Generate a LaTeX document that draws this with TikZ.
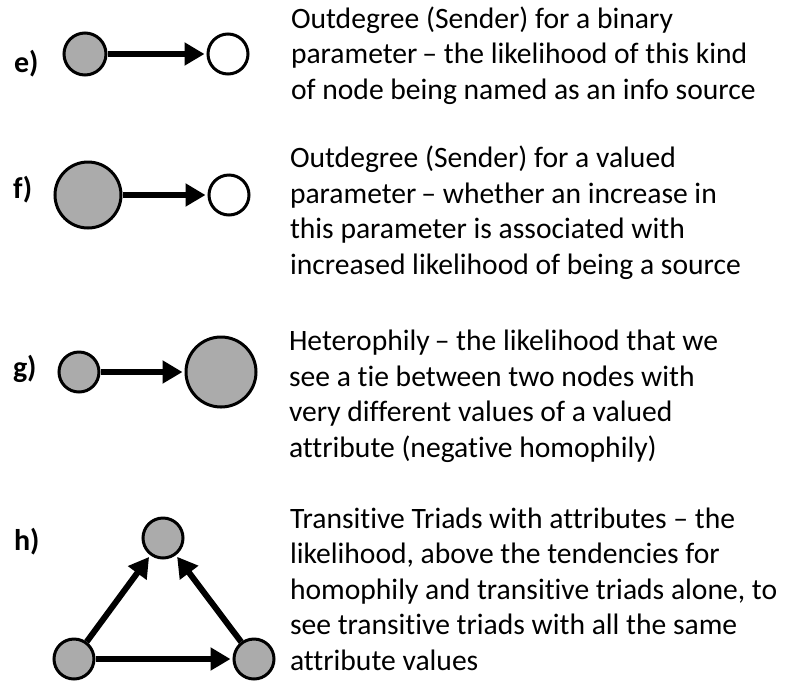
\documentclass[tikz,border=0pt]{standalone}
\usepackage{fontspec}
\setmainfont{Carlito}[Ligatures=NoCommon]
\usetikzlibrary{arrows.meta}

\begin{document}
\begin{tikzpicture}[x=1pt,y=-1pt,->,>={Triangle[length=20pt,width=22pt]},line width=6pt,shorten >=2pt,
        grey/.style={shape=circle,draw=black,line width=3pt,fill=black!33,minimum size=40pt,inner sep=0pt},
        blank/.style={shape=circle,draw=black,line width=3pt,fill=white,minimum size=40pt,inner sep=0pt},
        lbl/.style={font=\fontsize{30}{32}\selectfont\bfseries,anchor=base west,inner sep=0pt},
        txt/.style={font=\fontsize{29.6}{35.5}\selectfont,anchor=base west,align=left,inner sep=0pt}]
                \useasboundingbox(0, 0)rectangle(791, 681);
                % e) binary sender
                \node[lbl](le)at(11, 72){e)};
                \node[grey,minimum size=42pt](e1)at(85, 54){};
                \node[blank](e2)at(228, 54){};
                \node[txt](te)at(288, 99){Outdegree (Sender) for a binary\\parameter\,-- the likelihood of this kind\\of node being named as an info source};
                % f) valued sender
                \node[lbl](lf)at(10, 198){f)};
                \node[grey,minimum size=66pt](f1)at(88, 195){};
                \node[blank](f2)at(229, 195){};
                \node[txt](tf)at(287, 274){Outdegree (Sender) for a valued\\parameter\,-- whether an increase in\\this parameter is associated with\\increased likelihood of being a source};
                % g) heterophily
                \node[lbl](lg)at(10, 377){g)};
                \node[grey](g1)at(79, 372){};
                \node[grey,minimum size=70pt](g2)at(221, 372){};
                \node[txt](tg)at(286, 457){Heterophily\,-- the likelihood that we\\see a tie between two nodes with\\very different values of a valued\\attribute (negative homophily)};
                % h) transitive triad
                \node[lbl](lh)at(11, 550){h)};
                \node[grey](h1)at(163, 538){};
                \node[grey](h2)at(74, 659){};
                \node[grey](h3)at(254, 659){};
                \node[txt](th)at(287, 670){Transitive Triads with attributes -- the\\likelihood, above the tendencies for\\homophily and transitive triads alone, to\\see transitive triads with all the same\\attribute values};
                \path[](e1) edge (e2)
                (f1) edge (f2)
                (g1) edge (g2)
                (h2) edge (h1)
                (h3) edge (h1)
                (h2) edge (h3);
            \end{tikzpicture}
\end{document}
